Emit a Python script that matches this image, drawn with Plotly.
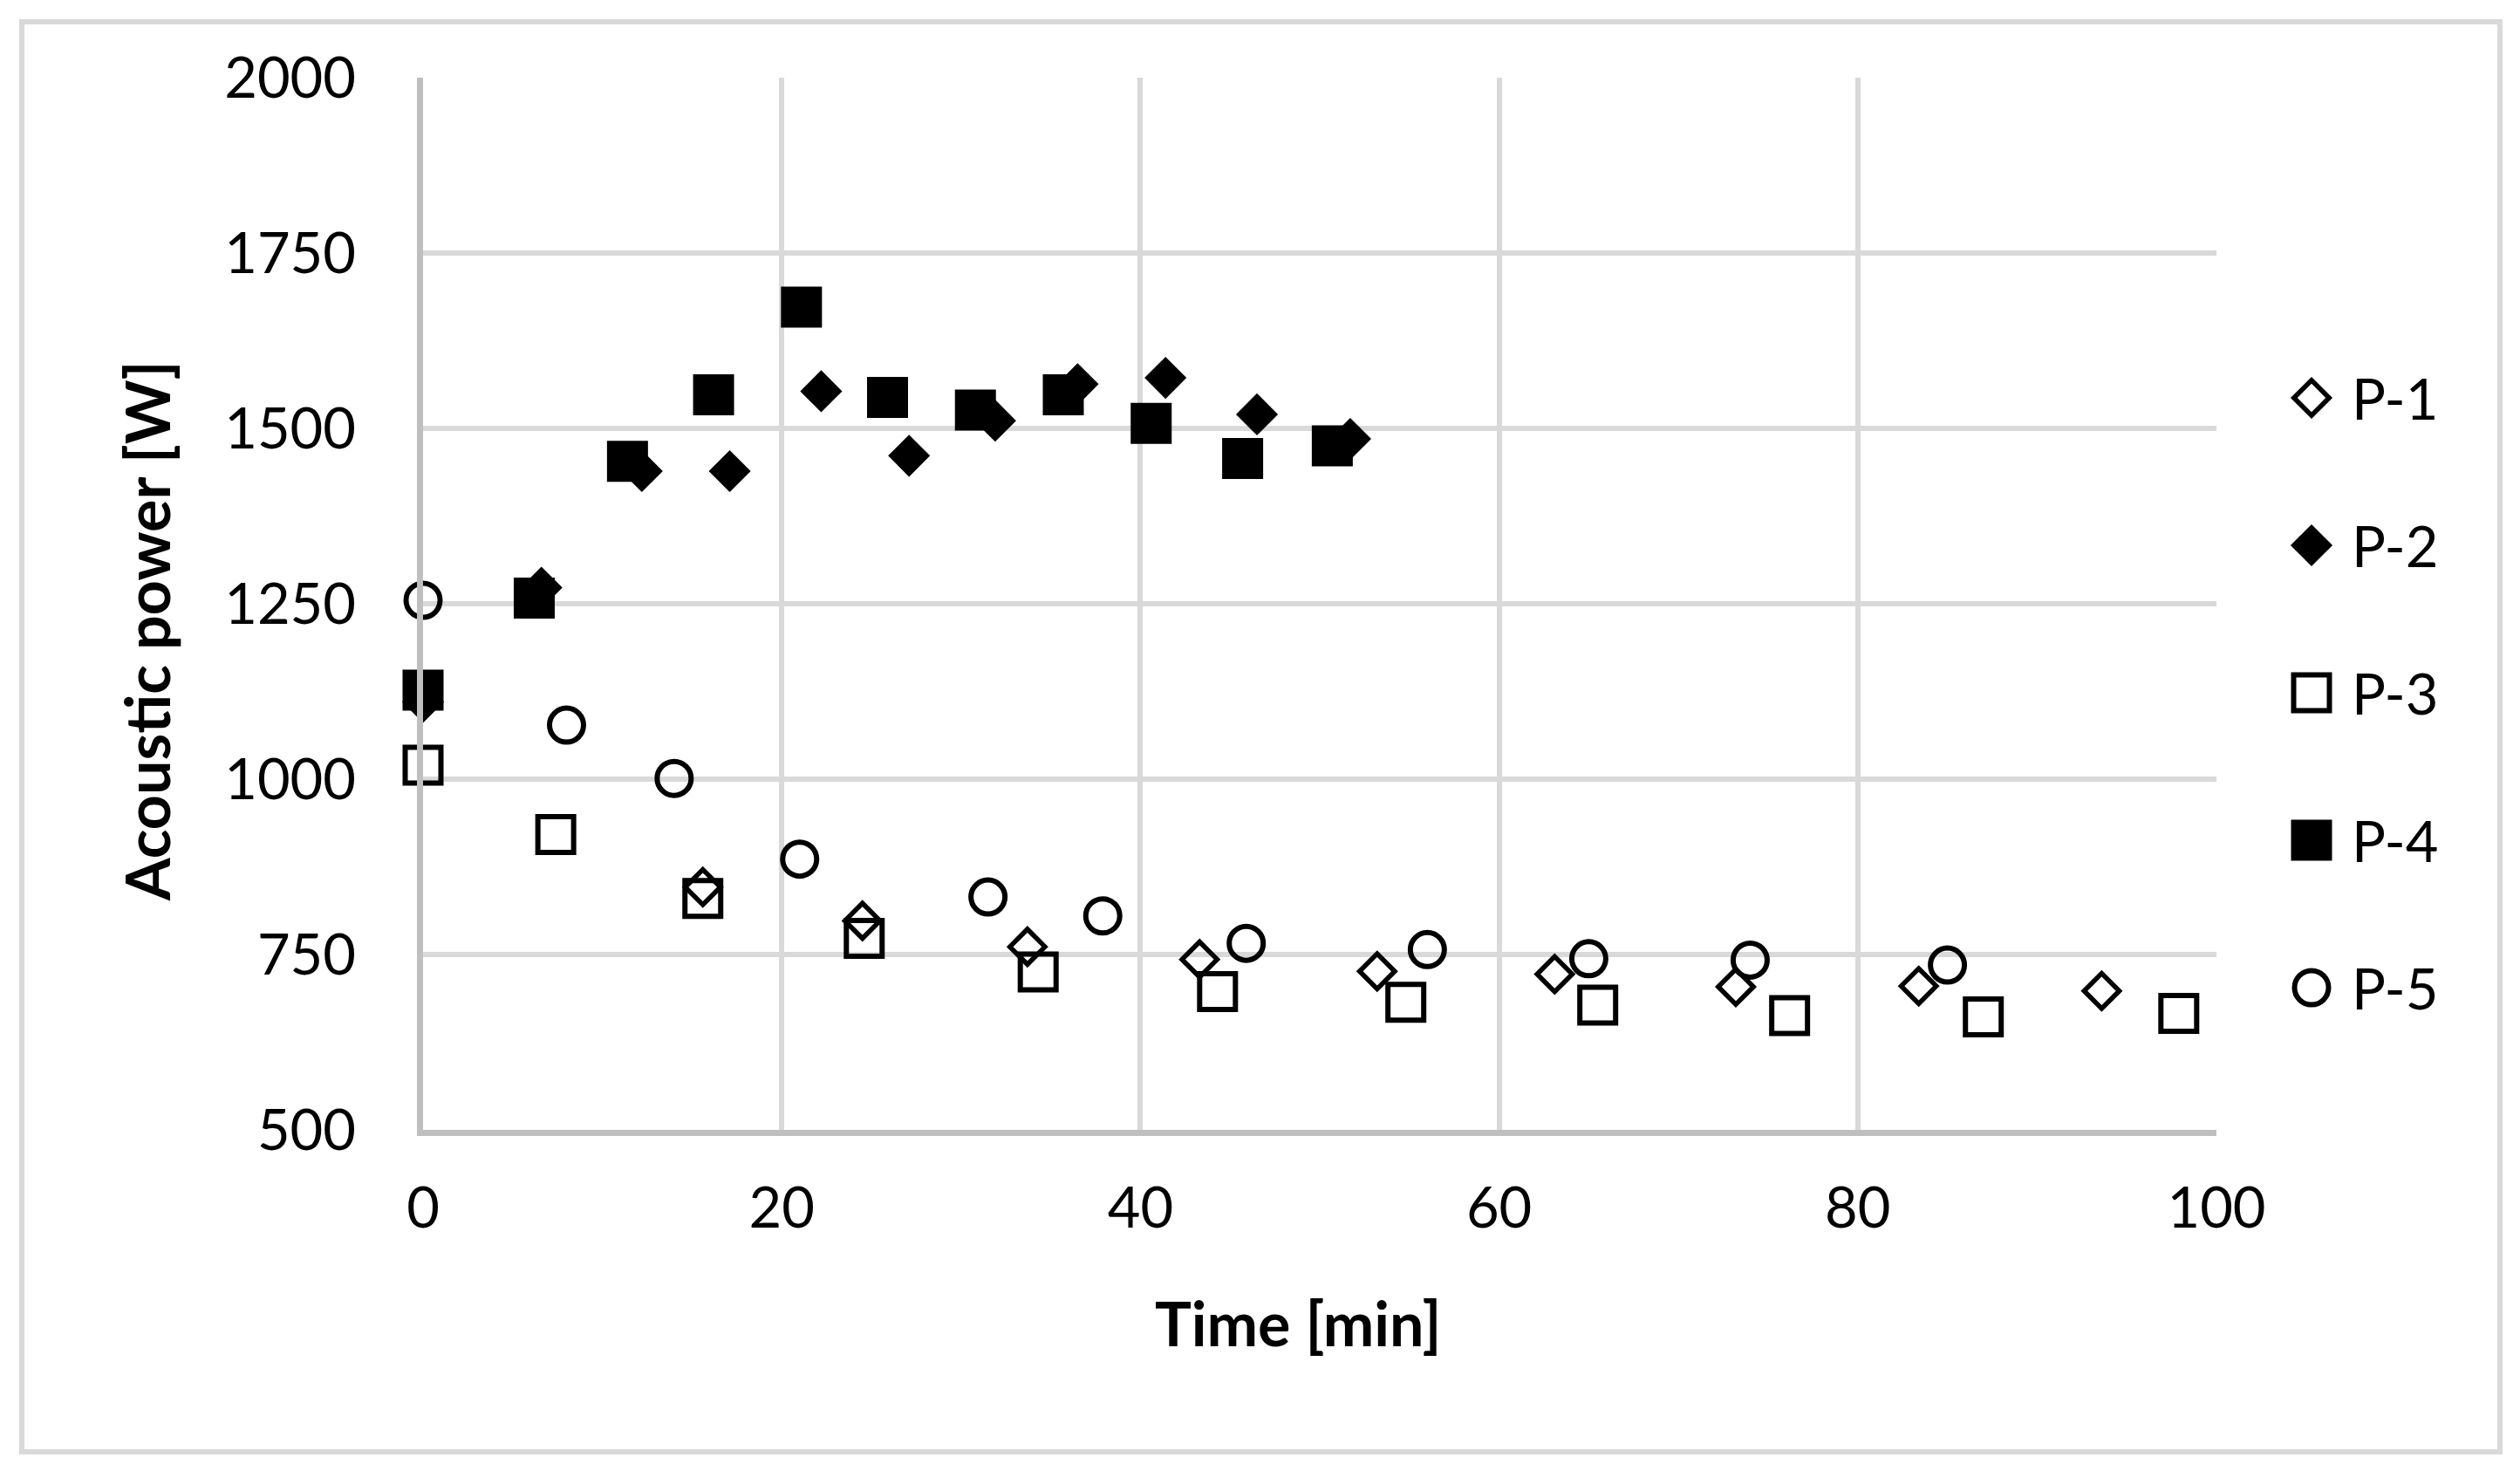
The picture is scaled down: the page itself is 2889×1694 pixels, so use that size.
import plotly.graph_objects as go

# ---- data ----
names = ["P-1", "P-2", "P-3", "P-4", "P-5"]

p1_t = [15.6, 24.5, 33.7, 43.3, 53.2, 63.1, 73.2, 83.4, 93.6]
p1_v = [846, 798, 761, 743, 726, 722, 704, 705, 698]

p2_t = [0, 6.6, 12.2, 17.1, 22.2, 27.1, 31.9, 36.5, 41.4, 46.5, 51.7]
p2_v = [1110, 1273, 1439, 1439, 1553, 1461, 1511, 1563, 1572, 1520, 1485]

p3_t = [0, 7.4, 15.6, 24.6, 34.3, 44.3, 54.8, 65.5, 76.2, 87.0, 97.9]
p3_v = [1020, 921, 830, 773, 725, 697, 682, 678, 663, 661, 666]

p4_t = [0, 6.2, 11.4, 16.2, 21.1, 25.9, 30.8, 35.7, 40.6, 45.7, 50.7]
p4_v = [1127, 1258, 1453, 1548, 1673, 1544, 1526, 1548, 1507, 1457, 1475]

p5_t = [0, 8.0, 14.0, 21.0, 31.5, 37.9, 45.9, 56.0, 65.0, 74.0, 85.0]
p5_v = [1255, 1077, 1001, 886, 832, 805, 766, 757, 744, 742, 735]

x_ticks = [0, 20, 40, 60, 80, 100]
y_ticks = [500, 750, 1000, 1250, 1500, 1750, 2000]

x_title = "Time [min]"
y_title = "Acoustic power [W]"

# ---- layout geometry (page pixels; the page body has an 8px margin) ----
FONT = "Lato"
OFF = 8
W, H = 2889 - 2 * OFF, 1694 - 2 * OFF
PL, PR, PT, PB = 485, 2541, 89, 1295      # plot area on the page
PAPER_R = 2862                            # right end of paper on the page
ML, MT = PL - OFF, PT - OFF
MB = H - (PB - OFF)
MR = W - (PAPER_R - OFF)
pw = W - ML - MR
ph = H - MT - MB


def fx(page_x):
    return (page_x - OFF - ML) / pw


def fy(page_y):
    return (H - MB - (page_y - OFF)) / ph


styles = [
    dict(symbol="diamond-open", size=31, line=dict(color="black", width=5.5), color="black"),
    dict(symbol="diamond", size=37, color="black", line=dict(width=0)),
    dict(symbol="square-open", size=41, line=dict(color="black", width=6), color="black"),
    dict(symbol="square", size=47, color="black", line=dict(width=0)),
    dict(symbol="circle-open", size=39, line=dict(color="black", width=6), color="black"),
]
series = [(p1_t, p1_v), (p2_t, p2_v), (p3_t, p3_v), (p4_t, p4_v), (p5_t, p5_v)]

fig = go.Figure()
for (t, v), nm, st in zip(series, names, styles):
    fig.add_trace(go.Scatter(x=t, y=v, mode="markers", name=nm, marker=st,
                             cliponaxis=False, showlegend=False))

# custom legend (large symbols) on a helper axis pair mapped to page pixels
leg_x = 2650
leg_y0, leg_dy = 456, 169
for i, (nm, st) in enumerate(zip(names, styles)):
    ly = leg_y0 + i * leg_dy
    fig.add_trace(go.Scatter(x=[leg_x], y=[ly], mode="markers",
                             marker=st, xaxis="x2", yaxis="y2",
                             cliponaxis=False, showlegend=False, hoverinfo="skip"))
    fig.add_annotation(x=fx(leg_x + 44), y=fy(ly), xref="paper", yref="paper",
                       text=nm, showarrow=False, xanchor="left", yanchor="middle",
                       font=dict(family=FONT, size=65, color="black"))

# axis titles
fig.add_annotation(x=fx(1488), y=fy(1516), xref="paper", yref="paper",
                   text="<b>" + x_title + "</b>",
                   showarrow=False, xanchor="center", yanchor="middle",
                   font=dict(family=FONT, size=70, color="black"))
fig.add_annotation(x=fx(168), y=fy(723), xref="paper", yref="paper",
                   text="<b>" + y_title + "</b>",
                   showarrow=False, xanchor="center", yanchor="middle", textangle=-90,
                   font=dict(family=FONT, size=70, color="black"))

fig.update_layout(
    width=W, height=H,
    margin=dict(l=ML, r=MR, t=MT, b=MB, pad=0),
    paper_bgcolor="white", plot_bgcolor="rgba(0,0,0,0)",
    font=dict(family=FONT, size=65, color="black"),
    xaxis=dict(domain=[0, fx(PR)], range=[0, 100], tickvals=x_ticks,
               showgrid=True, gridcolor="#D9D9D9", gridwidth=6,
               showline=True, linecolor="#BFBFBF", linewidth=7,
               zeroline=False, ticks="", ticklabelstandoff=27, automargin=False,
               tickfont=dict(family=FONT, size=65, color="black")),
    yaxis=dict(range=[500, 2000], tickvals=y_ticks,
               showgrid=True, gridcolor="#D9D9D9", gridwidth=6,
               showline=True, linecolor="#BFBFBF", linewidth=7,
               zeroline=False, ticks="", ticklabelstandoff=57, automargin=False,
               tickfont=dict(family=FONT, size=65, color="black")),
    xaxis2=dict(domain=[0, 1], range=[ML + OFF, W - MR + OFF], visible=False,
                anchor="y2", automargin=False),
    yaxis2=dict(domain=[0, 1], range=[H - MB + OFF, MT + OFF], visible=False,
                anchor="x2", automargin=False),
    shapes=[dict(type="rect", xref="paper", yref="paper",
                 x0=fx(25), x1=fx(2866), y0=fy(1664), y1=fy(25),
                 line=dict(color="#D9D9D9", width=6), fillcolor="rgba(0,0,0,0)",
                 layer="below")],
)

fig.write_html("out.html")
